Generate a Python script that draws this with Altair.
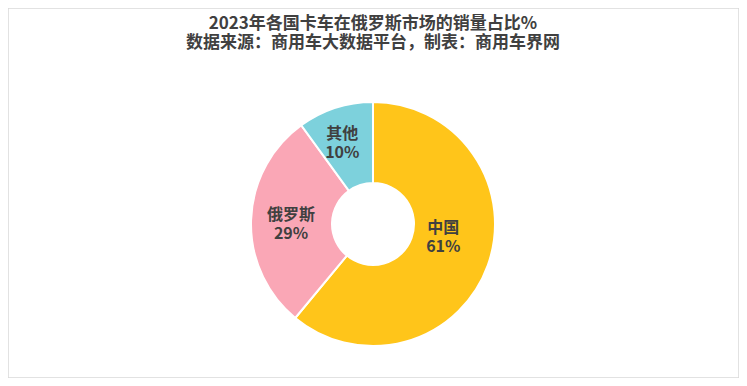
import altair as alt
import pandas as pd

categories = ["中国", "俄罗斯", "其他"]
shares = [61, 29, 10]
colors = ["#FFC51A", "#FAA7B6", "#7DD1DC"]
title_lines = ["2023年各国卡车在俄罗斯市场的销量占比%", "数据来源：商用车大数据平台，制表：商用车界网"]

df = pd.DataFrame({"cat": categories, "share": shares, "order": list(range(len(categories)))})
df["label"] = [f"{c}\n{s}%" for c, s in zip(categories, shares)]

W, H = 731, 370
CX, CY = 365, 216
FONT = "Noto Sans CJK SC"

# stack (angle) computed once, shared by the arcs and the labels
base = alt.Chart(df).transform_stack(
    stack="share", as_=["s0", "s1"], groupby=[], sort=[alt.SortField("order")]
).transform_joinaggregate(total="sum(share)")

theta_scale = alt.Scale(domain=[0, 100], range=[0, 6.283185307179586])

arc = base.mark_arc(outerRadius=122, innerRadius=41, stroke="white", strokeWidth=2).encode(
    theta=alt.Theta("s0:Q", scale=theta_scale),
    theta2="s1:Q",
    color=alt.Color("cat:N", scale=alt.Scale(domain=categories, range=colors), legend=None),
    x=alt.value(CX), y=alt.value(CY),
)

# fine label nudges (style), mimicking the original label placement
nudges = {"中国": (-5, -23), "俄罗斯": (-2, -6), "其他": (-6, -14)}
label_layers = []
for cat in categories:
    ddx, ddy = nudges[cat]
    label_layers.append(
        base.transform_calculate(mid="(datum.s0 + datum.s1) / 2")
        .transform_filter(alt.datum.cat == cat)
        .mark_text(
            radius=80, font=FONT, fontSize=16, fontWeight="bold", color="#404040",
            lineBreak="\n", lineHeight=19, align="center", baseline="middle",
            dx=ddx, dy=ddy,
        ).encode(
            theta=alt.Theta("mid:Q", scale=theta_scale),
            text="label:N", x=alt.value(CX), y=alt.value(CY),
        )
    )

title = alt.Chart(pd.DataFrame({"t": ["\n".join(title_lines)]})).mark_text(
    font=FONT, fontSize=17, fontWeight="bold", color="#404040",
    lineBreak="\n", lineHeight=19, align="center", baseline="middle",
).encode(text="t:N", x=alt.value(CX), y=alt.value(16))

chart = alt.layer(arc, *label_layers, title).properties(
    width=W, height=H, padding=0, autosize=alt.AutoSizeParams(type="none"),
    background="white",
).configure_view(stroke="#d9d9d9", strokeWidth=1.5)

chart.save("out.html", embed_options={"renderer": "svg", "actions": False})
